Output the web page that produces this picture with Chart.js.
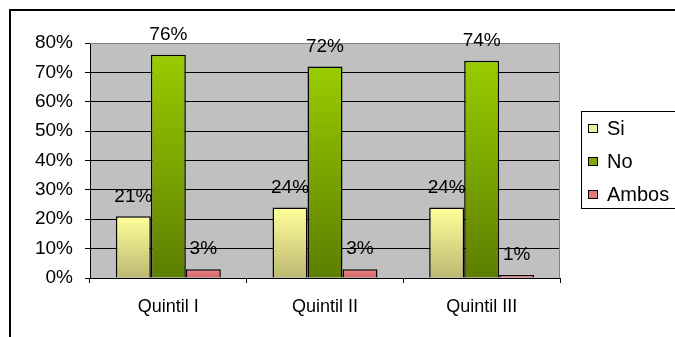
<!DOCTYPE html>
<html>
<head>
<meta charset="utf-8">
<script src="https://cdn.jsdelivr.net/npm/chart.js@4"></script>
<style>
  html, body { margin: 0; padding: 0; background: #fff; }
  #wrap { position: relative; width: 675px; height: 337px; }
</style>
</head>
<body>
<div id="wrap"><canvas id="myChart" width="675" height="337"></canvas></div>
<script>
// Chart data
const categories = ['Quintil I', 'Quintil II', 'Quintil III'];
const siValues = [21, 24, 24];
const noValues = [76, 72, 74];
const ambosValues = [3, 3, 1];
const yTicks = [0, 10, 20, 30, 40, 50, 60, 70, 80];

const FONT = 'Arial, "Liberation Sans", sans-serif';

// gradient per bar, light on top, darker at the base
function barGradient(top, bottom) {
    return function (context) {
        const chart = context.chart;
        const yScale = chart.scales.y;
        if (!chart.chartArea || !yScale || context.parsed == null) return top;
        const y0 = yScale.getPixelForValue(context.parsed.y);
        const y1 = yScale.getPixelForValue(0);
        if (y1 - y0 < 1) return top;
        const g = chart.ctx.createLinearGradient(0, y0, 0, y1);
        g.addColorStop(0, top);
        g.addColorStop(1, bottom);
        return g;
    };
}

const legendColors = ['#ECEC9A', '#7FAA00', '#E87878'];

// gray plot background + frame around the chart
const backgroundPlugin = {
    id: 'plotBackground',
    beforeDraw(chart) {
        const ctx = chart.ctx;
        const a = chart.chartArea;
        ctx.save();
        ctx.fillStyle = '#C0C0C0';
        ctx.fillRect(a.left, a.top, a.right - a.left, a.bottom - a.top);
        ctx.strokeStyle = '#000';
        ctx.lineWidth = 2;
        ctx.beginPath();
        ctx.moveTo(10, 340);
        ctx.lineTo(10, 10);
        ctx.lineTo(680, 10);
        ctx.stroke();
        ctx.restore();
    },
    afterDatasetsDraw(chart) {
        const ctx = chart.ctx;
        const a = chart.chartArea;
        ctx.save();
        ctx.strokeStyle = '#808080';
        ctx.lineWidth = 1;
        ctx.beginPath();
        ctx.moveTo(a.left, a.top + 0.5);
        ctx.lineTo(a.right - 0.5, a.top + 0.5);
        ctx.lineTo(a.right - 0.5, a.bottom);
        ctx.stroke();
        ctx.restore();
    }
};

// value labels above each bar
const labelPlugin = {
    id: 'valueLabels',
    afterDraw(chart) {
        const ctx = chart.ctx;
        ctx.save();
        ctx.font = '19px ' + FONT;
        ctx.fillStyle = '#000';
        ctx.textAlign = 'center';
        ctx.textBaseline = 'middle';
        chart.data.datasets.forEach((ds, i) => {
            const meta = chart.getDatasetMeta(i);
            meta.data.forEach((bar, j) => {
                ctx.fillText(ds.data[j] + '%', bar.x, bar.y - 20);
            });
        });
        ctx.restore();
    }
};

// boxed legend at the right
const legendPlugin = {
    id: 'boxLegend',
    afterDraw(chart) {
        const ctx = chart.ctx;
        ctx.save();
        ctx.fillStyle = '#fff';
        ctx.fillRect(581, 111, 110, 97);
        ctx.strokeStyle = '#000';
        ctx.lineWidth = 1;
        ctx.strokeRect(581.5, 111.5, 110, 97);
        ctx.font = '20px ' + FONT;
        ctx.textBaseline = 'middle';
        ctx.textAlign = 'left';
        const rows = [128, 161, 194];
        chart.data.datasets.forEach((ds, i) => {
            ctx.fillStyle = legendColors[i];
            ctx.fillRect(588, rows[i] - 4, 9, 8);
            ctx.strokeStyle = '#000';
            ctx.strokeRect(588.5, rows[i] - 3.5, 9, 8);
            ctx.fillStyle = '#000';
            ctx.fillText(ds.label, 607, rows[i] + 1);
        });
        ctx.restore();
    }
};

const ctx = document.getElementById('myChart').getContext('2d');
const myChart = new Chart(ctx, {
    type: 'bar',
    data: {
        labels: categories,
        datasets: [
            {
                label: 'Si',
                data: siValues,
                backgroundColor: barGradient('#FFFF99', '#BDB974'),
                borderColor: '#000',
                borderWidth: 1.5
            },
            {
                label: 'No',
                data: noValues,
                backgroundColor: barGradient('#99CC00', '#5C7E00'),
                borderColor: '#000',
                borderWidth: 1.5
            },
            {
                label: 'Ambos',
                data: ambosValues,
                backgroundColor: barGradient('#F08282', '#D06868'),
                borderColor: '#000',
                borderWidth: 1.5
            }
        ]
    },
    options: {
        responsive: false,
        animation: false,
        layout: { padding: { left: 0, top: 43, right: 115, bottom: 0 } },
        datasets: {
            bar: { categoryPercentage: 0.67, barPercentage: 1 }
        },
        plugins: {
            legend: { display: false },
            tooltip: { enabled: false }
        },
        scales: {
            x: {
                afterFit(scale) { scale.height = 59; },
                grid: {
                    offset: true,
                    drawOnChartArea: false,
                    drawTicks: true,
                    tickLength: 5,
                    color: '#000'
                },
                border: { color: '#000', width: 1 },
                ticks: {
                    color: '#000',
                    font: { family: FONT, size: 18 },
                    padding: 13
                }
            },
            y: {
                min: 0,
                max: 80,
                afterFit(scale) { scale.width = 90; },
                afterBuildTicks(scale) {
                    scale.ticks = yTicks.map(v => ({ value: v }));
                },
                grid: {
                    color: '#000',
                    tickLength: 5,
                    drawTicks: true
                },
                border: { color: '#000', width: 1 },
                ticks: {
                    color: '#000',
                    font: { family: FONT, size: 19 },
                    padding: 12,
                    callback: v => v + '%'
                }
            }
        }
    },
    plugins: [backgroundPlugin, labelPlugin, legendPlugin]
});
</script>
</body>
</html>
